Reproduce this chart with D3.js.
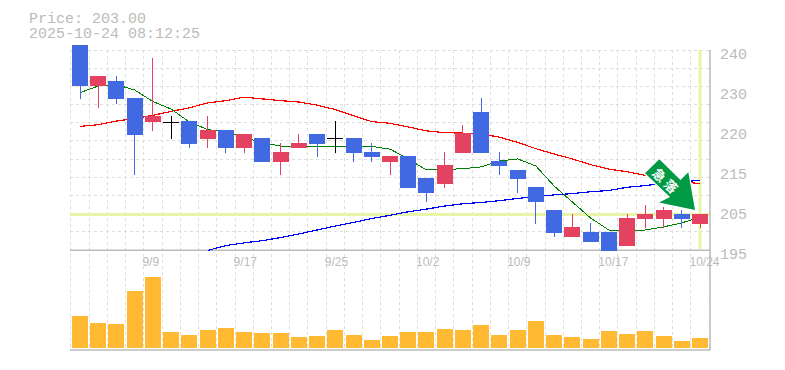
<!DOCTYPE html>
<html>
<head>
<meta charset="utf-8">
<script src="https://cdn.jsdelivr.net/npm/d3@7"></script>
<style>
  html, body { margin: 0; padding: 0; background: #fff; }
  svg { display: block; }
</style>
</head>
<body>
<svg id="chart" width="785" height="370"></svg>
<script>
const opens  = [241.1,231.9,233,229.2,223.8,223.9,224,220,222,218,220.2,214.8,218,221.1,220.2,220.2,217,214.8,216.2,211.2,209.9,216.8,226,215,213,209.2,204,197.9,199.1,199.1,195.9,202,202,203.1,200.9];
const highs  = [241.1,234.2,234.2,229.2,238.2,225.2,224,225.2,222,221.1,220.2,219.1,221.1,221.1,224,220.2,219.1,216.2,216.2,211.2,217,223.1,229.2,217,213,209.2,204,203.1,201.1,199.1,203.1,205.1,204.7,204,203.1];
const lows   = [229,227,227.9,211.9,221.8,220,218,218,216.8,216.8,214.8,211.9,218,215.9,216.8,214.8,214.8,211.9,209,205.8,209,216.8,216.8,211.9,207.8,200.9,197.9,197.9,196.8,194.8,195.9,200,200,200,200];
const closes = [231.9,234.2,229,220.9,225.2,223.9,218.9,222,218,221.1,214.8,217,219.1,218.9,220.2,216.8,215.9,216.2,209,207.8,214.1,221.3,216.8,213.9,211,205.8,198.8,200.2,196.8,194.8,202.2,203.1,204,202,203.1];
const volumes = [3200,2500,2400,5700,7100,1600,1300,1800,2000,1600,1500,1500,1100,1200,1800,1300,800,1200,1600,1600,1900,1800,2300,1300,1800,2700,1300,1100,900,1700,1400,1700,1200,700,1000];

const maShort = [230.4,231.9,232.2,231,228.4,226.7,223.8,222.1,221.6,220.4,219.1,218.4,218.3,218.3,218.2,218.4,218.3,217.7,215.5,213,213.1,213.3,213.7,215,215.5,213.9,209.4,205.8,202.2,199.5,199.1,199.5,200.2,201.1,202.4];
const maMid   = [222.8,223.2,224,224.6,225.3,226.2,227,228.1,228.6,229.4,229,228.6,228.3,227.6,226.6,225.2,223.9,223.5,222.7,221.8,221.4,221.3,221.1,220.4,219.2,217.8,216.6,215.5,214.2,213.2,212.6,211.8,211,210.4,209.9];
const maLong  = [null,null,null,null,null,null,null,194.9,196,196.6,197.1,197.8,198.6,199.5,200.4,201.2,202.1,202.8,203.6,204.2,204.9,205.4,205.7,206.1,206.6,207,207.4,207.7,208.1,208.4,209.1,209.5,210,210.3,210.7];

const dateIndex = [4,9,14,19,24,29,34];
const dateLabels = ["9/9","9/17","9/25","10/2","10/9","10/17","10/24"];
const priceTicks = [240,231,222,213,204,195];
const priceLabels = ["240","230","220","215","205","195"];
const lastPrice = 203;
const titleLines = ["Price: 203.00","2025-10-24 08:12:25"];
const arrowLabel = "急落";

const gray = "#bbb", gridColor = "#ddd", marker = "#e6f5a8";
const upColor = "#e34361", downColor = "#4169e1", volColor = "#ffb933";
const mono = "'Liberation Mono', monospace";

const svg = d3.select("#chart");

const x = d3.scaleLinear().domain([0, 34]).range([80, 700]);
const y = d3.scaleLinear().domain([195, 240]).range([250, 50]);
const yVol = d3.scaleLinear().domain([0, 7100]).range([348, 277]);
const barW = 16;

// grid
const grid = svg.append("g")
  .attr("stroke", gridColor)
  .attr("stroke-dasharray", "3,3")
  .attr("shape-rendering", "crispEdges");
grid.selectAll(".v").data(d3.range(36)).enter().append("line")
  .attr("x1", d => x(d - 0.5)).attr("x2", d => x(d - 0.5))
  .attr("y1", 50).attr("y2", 350);
grid.selectAll(".h").data(d3.range(11)).enter().append("line")
  .attr("x1", 70).attr("x2", 710)
  .attr("y1", d => y(240 - d * 45 / 11)).attr("y2", d => y(240 - d * 45 / 11));

// last price markers
svg.append("line")
  .attr("x1", 70).attr("x2", 710)
  .attr("y1", y(lastPrice)).attr("y2", y(lastPrice))
  .attr("stroke", marker).attr("stroke-width", 3);
svg.append("line")
  .attr("x1", x(34)).attr("x2", x(34))
  .attr("y1", 50).attr("y2", 249)
  .attr("stroke", marker).attr("stroke-width", 3);

// frame
const frame = svg.append("g").attr("stroke", gray).attr("stroke-width", 1.5);
frame.append("line").attr("x1", 70).attr("x2", 710).attr("y1", 250.3).attr("y2", 250.3);
frame.append("line").attr("x1", 70).attr("x2", 710).attr("y1", 350).attr("y2", 350);
frame.append("line").attr("x1", 710).attr("x2", 710).attr("y1", 50).attr("y2", 350.5);

// moving averages
const lineGen = d3.line()
  .defined(d => d !== null)
  .x((d, i) => x(i))
  .y(d => y(d));
[[maLong, "#0000ff"], [maMid, "#ff0000"], [maShort, "#008000"]].forEach(([vals, col]) => {
  svg.append("path")
    .attr("d", lineGen(vals))
    .attr("fill", "none")
    .attr("stroke", col)
    .attr("stroke-width", col === "#008000" ? 1 : 1.2)
    .attr("shape-rendering", "crispEdges");
});

// candles
const candleColor = i => closes[i] > opens[i] ? upColor : closes[i] < opens[i] ? downColor : "#000";
const candles = svg.append("g").attr("shape-rendering", "crispEdges");
candles.selectAll(".wick").data(d3.range(opens.length)).enter().append("line")
  .attr("x1", d => x(d)).attr("x2", d => x(d))
  .attr("y1", d => y(highs[d])).attr("y2", d => y(lows[d]))
  .attr("stroke", candleColor);
candles.selectAll(".body").data(d3.range(opens.length)).enter().append("rect")
  .attr("x", d => x(d) - barW / 2)
  .attr("y", d => y(Math.max(opens[d], closes[d])))
  .attr("width", barW)
  .attr("height", d => Math.max(1, Math.abs(y(opens[d]) - y(closes[d]))))
  .attr("fill", candleColor);

// volume
svg.append("g").attr("shape-rendering", "crispEdges")
  .selectAll("rect").data(volumes).enter().append("rect")
  .attr("x", (d, i) => x(i) - barW / 2)
  .attr("y", d => yVol(d))
  .attr("width", barW)
  .attr("height", d => yVol(0) - yVol(d))
  .attr("fill", volColor);

// arrow, placed relative to the last candle
const arrow = svg.append("g")
  .attr("transform", `translate(${x(34) - 5},${y(lastPrice) - 4.4})`);
arrow.append("path")
  .attr("d", "M0,0 L-6.7,-37.7 L-14.5,-30 L-35.7,-50.7 L-50,-36.7 L-25,-13 L-36,-7.5 Z")
  .attr("fill", "#009944")
  .attr("stroke", "#fff")
  .attr("stroke-width", 2.5)
  .attr("stroke-linejoin", "round")
  .attr("paint-order", "stroke");
arrow.append("text")
  .attr("transform", "translate(-29,-28) rotate(45)")
  .attr("text-anchor", "middle")
  .attr("dy", "0.36em")
  .attr("font-family", "'Noto Sans CJK JP'")
  .attr("font-weight", "bold")
  .attr("font-size", 13)
  .attr("letter-spacing", 3)
  .attr("fill", "#fff")
  .text(arrowLabel);

// price axis
const yAxis = svg.append("g")
  .attr("transform", "translate(720,0)")
  .call(d3.axisRight(y).tickValues(priceTicks).tickSize(0).tickPadding(0)
    .tickFormat((d, i) => priceLabels[i]));
yAxis.select(".domain").remove();
yAxis.selectAll("text")
  .attr("x", 0).attr("y", 8).attr("dy", 0)
  .attr("fill", gray)
  .attr("font-family", mono)
  .attr("font-size", 15);

// date axis
const xAxis = svg.append("g")
  .attr("transform", "translate(0,266)")
  .call(d3.axisBottom(x).tickValues(dateIndex).tickSize(0).tickPadding(0)
    .tickFormat((d, i) => dateLabels[i]));
xAxis.select(".domain").remove();
xAxis.selectAll("text")
  .attr("x", -11).attr("y", 0).attr("dy", 0)
  .attr("text-anchor", "start")
  .attr("fill", gray)
  .attr("font-family", "'Liberation Sans', sans-serif")
  .attr("font-size", 12);

// title
svg.selectAll(".title").data(titleLines).enter().append("text")
  .attr("x", 29)
  .attr("y", (d, i) => 22.5 + i * 15)
  .attr("fill", gray)
  .attr("font-family", mono)
  .attr("font-size", 15)
  .text(d => d);
</script>
</body>
</html>
